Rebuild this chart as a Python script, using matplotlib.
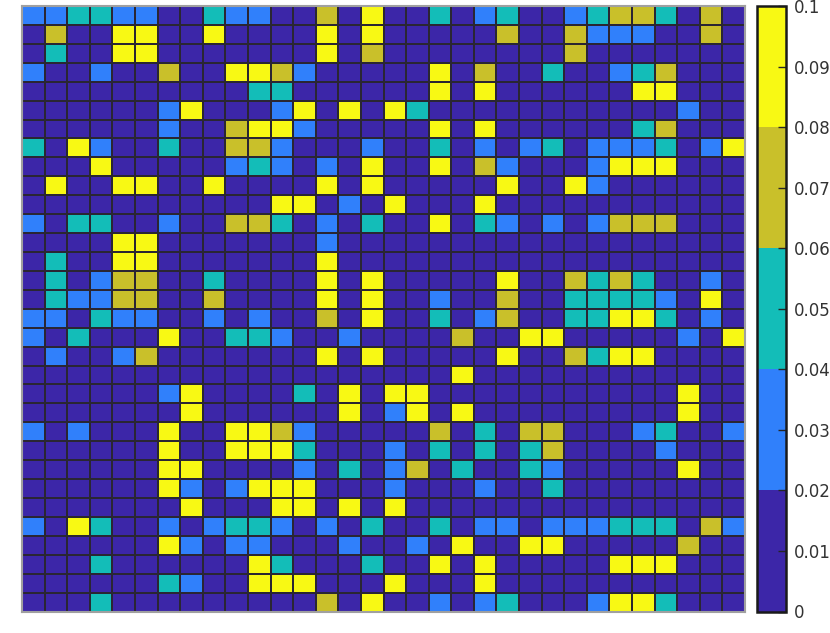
import numpy as np
import matplotlib
matplotlib.use("Agg")
import matplotlib.pyplot as plt
from matplotlib.colors import ListedColormap

# Each digit is a colour class (0..4) of one cell; class k holds values in [0.02k, 0.02k+0.02)
rows = [
    "11221100211" "003040020120" "012332030",
    "03004400400" "004040000030" "031110030",
    "02004400000" "004030000000" "030000000",
    "10010030044" "310000040300" "200123000",
    "00000000002" "200000040400" "000044000",
    "00000014000" "140404200000" "000000100",
    "00000010034" "410000040400" "000023000",
    "20410020033" "100010020101" "201112014",
    "00040000012" "101040040310" "001444000",
    "04004400400" "004040000040" "041000000",
    "00000000000" "440104000400" "000000000",
    "10220010033" "201020040210" "101333000",
    "00004400000" "001000000000" "000000000",
    "02004400000" "004000000000" "000000000",
    "02013300200" "004040000040" "032320010",
    "02113300300" "004040010030" "022221040",
    "11021100101" "003040020130" "022442010",
    "10200040022" "100100003004" "400000104",
    "01001300000" "004040000040" "032440000",
    "00000000000" "000000004000" "000000000",
    "00000014000" "020404400000" "000000400",
    "00000004000" "000401404000" "000000400",
    "10100040044" "310000030203" "300012001",
    "00000040044" "420001020202" "300001000",
    "00000044000" "010201302002" "100000400",
    "00000041014" "440001000100" "200000000",
    "00000004000" "440404000000" "000000000",
    "10420010122" "101020020110" "111222031",
    "00000041011" "000100104004" "400000300",
    "00020000004" "200020040400" "000444000",
    "00000021004" "440004000400" "000000000",
    "00020000000" "003040010120" "001442000",
]
class_values = [0.01, 0.03, 0.05, 0.07, 0.09]
cbar_ticks = [0, 0.01, 0.02, 0.03, 0.04, 0.05, 0.06, 0.07, 0.08, 0.09, 0.1]
cbar_labels = ["0", "0.01", "0.02", "0.03", "0.04", "0.05", "0.06", "0.07", "0.08", "0.09", "0.1"]

data = np.array([[class_values[int(c)] for c in r] for r in rows])

colors = ["#3c26a8", "#3080fb", "#13bdb8", "#c9c02a", "#f8f914"]
cmap = ListedColormap(colors)

fig = plt.figure(figsize=(8.30, 6.33), dpi=100)
ax = fig.add_axes([22/830, 1-611.5/633, 723/830, 605.5/633])
mesh = ax.pcolormesh(data, cmap=cmap, vmin=0, vmax=0.1,
                     edgecolors="#2a2633", linewidth=1.2)
ax.set_xlim(0, data.shape[1])
ax.set_ylim(data.shape[0], 0)
ax.set_xticks([])
ax.set_yticks([])
for s in ax.spines.values():
    s.set_edgecolor("#a0a0a0")
    s.set_linewidth(1.5)

cax = fig.add_axes([757/830, 1-611.5/633, 29/830, 605.5/633])
cb = fig.colorbar(mesh, cax=cax, ticks=cbar_ticks)
cb.ax.set_yticklabels(cbar_labels)
cb.ax.tick_params(direction="in", length=6, width=1, labelsize=12,
                  labelcolor="#333333", color="#262626", pad=6)
cb.outline.set_edgecolor("#1a1a1a")
cb.outline.set_linewidth(1.8)

fig.savefig("out.png", dpi=100)
